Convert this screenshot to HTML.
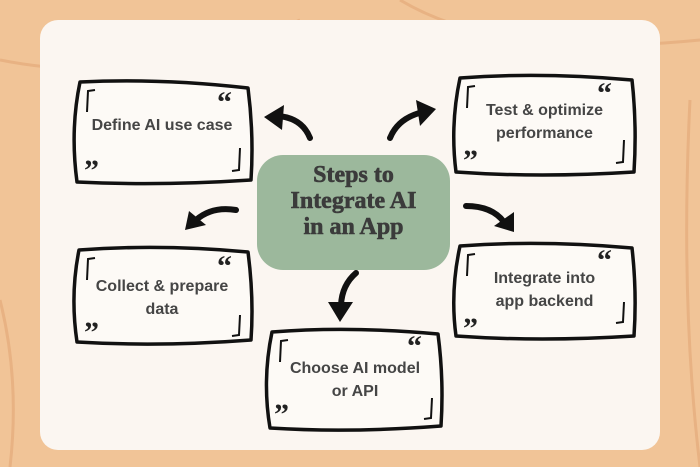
<!DOCTYPE html>
<html><head><meta charset="utf-8"><style>
body{margin:0;width:700px;height:467px;overflow:hidden;background:#f1c497;font-family:"Liberation Sans",sans-serif}
.t{position:absolute;text-align:center;color:#454545;font-size:16px;font-weight:bold;line-height:23px}
</style></head><body>
<svg width="700" height="467" style="position:absolute;left:0;top:0">
<path d="M0 60 Q150 90 300 20 M400 0 Q500 60 700 40 M0 300 Q20 380 10 467 M690 100 Q680 300 700 467" stroke="#e8b283" stroke-width="3" fill="none"/>
<rect x="40" y="20" width="620" height="430" rx="18" fill="#fbf6f1"/>
<rect x="257" y="155" width="193" height="115" rx="26" fill="#9cb89c"/>
<g fill="#fdfaf6" stroke="#111" stroke-width="3.5" stroke-linejoin="round">
<path d="M80 82 Q160 78 248 88 Q254 135 251 180 Q160 186 77 182 Q70 130 80 82Z"/>
<path d="M460 78 Q540 72 632 80 Q637 125 634 172 Q540 178 456 172 Q450 125 460 78Z"/>
<path d="M79 250 Q160 244 248 252 Q254 298 251 340 Q160 347 77 342 Q70 295 79 250Z"/>
<path d="M460 246 Q540 240 632 248 Q637 292 634 336 Q540 342 456 336 Q450 292 460 246Z"/>
<path d="M272 332 Q350 326 438 334 Q444 380 441 426 Q350 433 270 428 Q262 380 272 332Z"/>
</g>
<g stroke="#111" stroke-width="2" fill="none">
<path d="M95 90 L88 91 L87 112"/><path d="M240 148 L239 170 L232 171"/>
<path d="M475 86 L468 87 L467 108"/><path d="M624 140 L623 162 L616 163"/>
<path d="M95 258 L88 259 L87 280"/><path d="M240 315 L239 335 L232 336"/>
<path d="M475 254 L468 255 L467 276"/><path d="M624 302 L623 322 L616 323"/>
<path d="M288 340 L281 341 L280 362"/><path d="M432 398 L431 418 L424 419"/>
</g>
<g font-family="Liberation Serif" font-weight="bold" font-size="30" fill="#222">
<text x="217" y="112">“</text><text x="84" y="180">”</text>
<text x="597" y="103">“</text><text x="463" y="170">”</text>
<text x="217" y="276">“</text><text x="84" y="342">”</text>
<text x="597" y="270">“</text><text x="463" y="338">”</text>
<text x="407" y="356">“</text><text x="274" y="424">”</text>
</g>
<g stroke="#111" stroke-width="6" fill="none" stroke-linecap="round">
<path d="M310 138 Q302 118 278 116"/>
<path d="M390 138 Q398 118 423 112"/>
<path d="M236 210 Q212 206 196 220"/>
<path d="M466 206 Q492 206 504 222"/>
<path d="M356 273 Q342 285 341 305"/>
</g>
<g fill="#111">
<polygon points="264,117 284,105 282,130"/>
<polygon points="436,109 416,100 420,126"/>
<polygon points="185,230 189,211 206,225"/>
<polygon points="514,232 494,226 514,212"/>
<polygon points="340,322 328,302 353,302"/>
</g>
</svg>
<div style="position:absolute;left:257px;top:162px;width:193px;text-align:center;font-family:'Liberation Serif',serif;font-weight:bold;font-size:24px;line-height:26px;color:#3b3b3b;-webkit-text-stroke:0.6px #3b3b3b">Steps to<br>Integrate AI<br>in an App</div>
<div class="t" style="left:72px;top:114px;width:180px">Define AI use case</div>
<div class="t" style="left:452px;top:99px;width:185px">Test &amp; optimize<br>performance</div>
<div class="t" style="left:72px;top:275px;width:180px">Collect &amp; prepare<br>data</div>
<div class="t" style="left:452px;top:267px;width:185px">Integrate into<br>app backend</div>
<div class="t" style="left:265px;top:357px;width:180px">Choose AI model<br>or API</div>
</body></html>
